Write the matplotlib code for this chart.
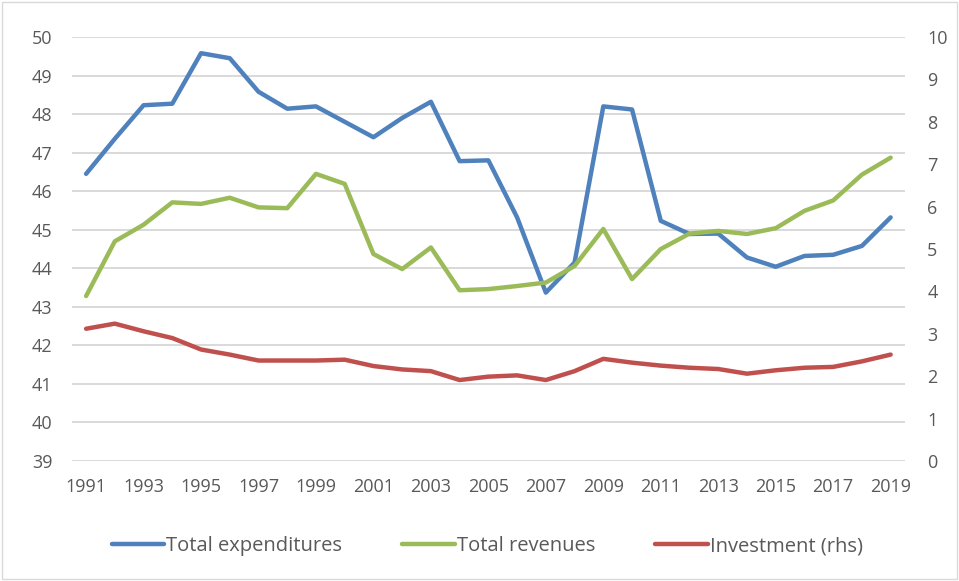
import numpy as np
import matplotlib.pyplot as plt

years = list(range(1991, 2020))

total_expenditures = [46.45, 47.36, 48.23, 48.27, 49.58, 49.45, 48.58, 48.14, 48.2, 47.8,
                      47.4, 47.9, 48.32, 46.78, 46.8, 45.32, 43.37, 44.15, 48.2, 48.12,
                      45.23, 44.89, 44.9, 44.28, 44.04, 44.32, 44.35, 44.58, 45.32]
total_revenues = [43.28, 44.7, 45.13, 45.71, 45.67, 45.83, 45.58, 45.56, 46.45, 46.19,
                  44.37, 43.98, 44.54, 43.43, 43.46, 43.54, 43.63, 44.06, 45.02, 43.72,
                  44.5, 44.9, 44.97, 44.89, 45.04, 45.49, 45.76, 46.43, 46.87]
investment = [3.12, 3.24, 3.06, 2.90, 2.63, 2.51, 2.37, 2.37, 2.37, 2.39,
              2.24, 2.16, 2.12, 1.91, 1.99, 2.02, 1.91, 2.12, 2.41, 2.32,
              2.25, 2.20, 2.17, 2.06, 2.14, 2.20, 2.22, 2.35, 2.51]

plt.rcParams['font.family'] = ['Open Sans', 'DejaVu Sans']
txt = '#595959'

fig = plt.figure(figsize=(9.59, 5.81), dpi=100)
ax = fig.add_axes([0.0748, 0.2065, 0.8689, 0.7298])
ax2 = ax.twinx()

l1, = ax.plot(years, total_expenditures, color='#4F81BD', lw=3.2, solid_capstyle='round',
              solid_joinstyle='round', label='Total expenditures')
l2, = ax.plot(years, total_revenues, color='#9BBB59', lw=3.2, solid_capstyle='round',
              solid_joinstyle='round', label='Total revenues')
l3, = ax2.plot(years, investment, color='#C0504D', lw=3.2, solid_capstyle='round',
               solid_joinstyle='round', label='Investment (rhs)')

ax.set_xlim(1990.5, 2019.5)
ax.set_ylim(39, 50)
ax2.set_ylim(0, 10)
ax.set_yticks(range(39, 51))
ax2.set_yticks(range(0, 11))
ax.set_xticks(years[::2])

ax.grid(axis='y', color='#D9D9D9', lw=1.4)
ax.set_axisbelow(True)
for a in (ax, ax2):
    for s in a.spines.values():
        s.set_visible(False)
    a.tick_params(length=0, labelsize=13, colors=txt)
ax.tick_params(axis='y', pad=14)
ax2.tick_params(axis='y', pad=16)
ax.tick_params(axis='x', pad=12)

fig.legend(handles=[l1, l2, l3], loc='center', bbox_to_anchor=(0.508, 0.06), ncol=3,
           frameon=False, fontsize=14.5, labelcolor=txt, handlelength=2.6,
           handletextpad=0.1, columnspacing=3.0)

fig.patches.append(plt.Rectangle((0.002, 0.003), 0.996, 0.994, transform=fig.transFigure,
                                 fill=False, edgecolor='#D9D9D9', lw=1))

fig.savefig('out.png', dpi=100)
